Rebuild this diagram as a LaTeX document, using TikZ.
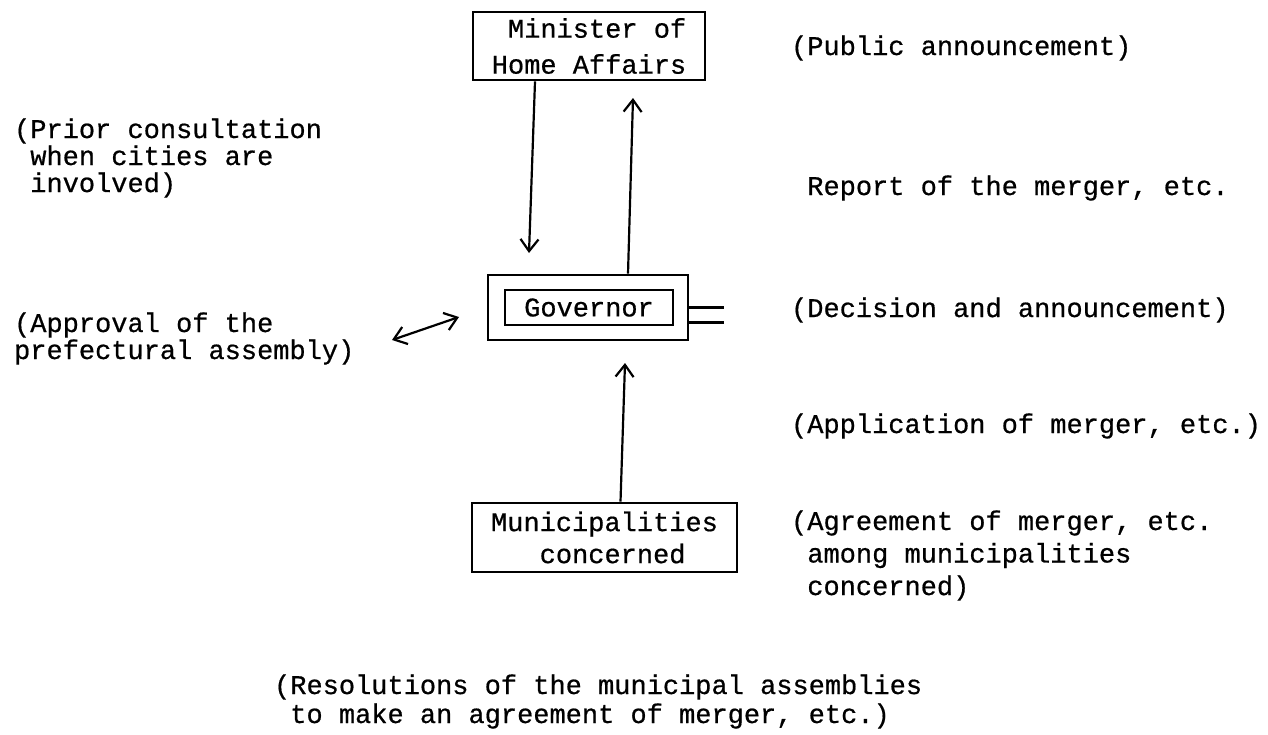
\documentclass[tikz,border=0pt]{standalone}
\usepackage{fontspec}
\setmainfont{Liberation Mono}[FakeBold=0.6]
\usepackage{tikz}
\usetikzlibrary{positioning,arrows.meta,calc}

\begin{document}
\begin{tikzpicture}[x=0.5pt, y=-0.5pt, line width=1.1pt, >={Straight Barb[length=6pt,width=9pt]},
	box/.style={draw, line width=1.3pt, inner sep=0pt, align=center, font=\fontsize{13.5}{18}\selectfont},
	lbl/.style={anchor=base west, inner sep=0pt, align=left, font=\fontsize{13.5}{13.5}\selectfont}]
	\fill[white] (0,0) rectangle (1268,734);

	% boxes
	\node[box, minimum width=116pt, minimum height=34pt] (min) at (589,46) {\ Minister of\\Home Affairs};
	\node[box, minimum width=100pt, minimum height=32.5pt] (gov) at (588,307.5) {};
	\node[box, minimum width=84pt, minimum height=17.5pt] (govname) at (589,307.5) {Governor};
	\node[box, minimum width=132.5pt, minimum height=34.5pt, font=\fontsize{13.5}{16}\selectfont] (mun) at (604.5,537.5) {Municipalities\\\ concerned};

	% texts (base = last line)
	\node[lbl] (pubann) at (790,55) {(Public announcement)};
	\node[lbl] (prior) at (13,192) {(Prior consultation\\\ when cities are\\\ involved)};
	\node[lbl] (report) at (790,195) {\ Report of the merger, etc.};
	\node[lbl] (approval) at (13,359) {(Approval of the\\prefectural assembly)};
	\node[lbl] (decision) at (790,317) {(Decision and announcement)};
	\node[lbl] (application) at (790,433) {(Application of merger, etc.)};
	\node[lbl, font=\fontsize{13.5}{16.25}\selectfont] (agreement) at (790,595) {(Agreement of merger, etc.\\\ among municipalities\\\ concerned)};
	\node[lbl, font=\fontsize{13.5}{14.5}\selectfont] (resolutions) at (273,723) {(Resolutions of the municipal assemblies\\\ to make an agreement of merger, etc.)};

	\coordinate (mintip) at (633,98);
	\coordinate (govtip) at (529,253);
	\coordinate (govtipb) at (625,363);
	\coordinate (apprl) at (392,340);
	\coordinate (apprr) at (459,317);

	\path[->]
	([xshift=-27pt]min.south) edge (govtip)
	([xshift=20pt]gov.north) edge (mintip)
	([xshift=8pt]mun.north) edge (govtipb);
	\draw[<->] (apprl) -- (apprr);

	\draw (gov.east) -- ++(35,0) coordinate (deca);
	\draw ([yshift=-7.5pt]gov.east) -- ++(35,0) coordinate (decb);
\end{tikzpicture}
\end{document}
